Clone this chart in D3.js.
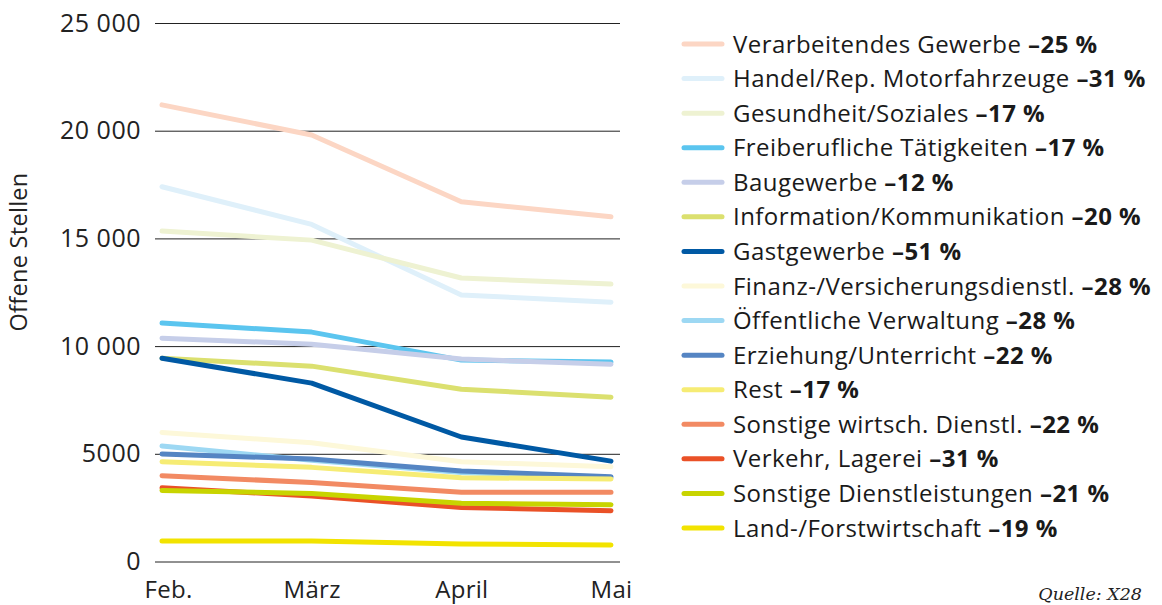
<!DOCTYPE html>
<html>
<head>
<meta charset="utf-8">
<script src="https://cdn.jsdelivr.net/npm/d3@7"></script>
<style>
  body { margin: 0; background: #fff; }
  svg { font-family: "Open Sans", Lato, sans-serif; }
</style>
</head>
<body>
<div id="chart"></div>
<script>
// data
var months = ["Feb.", "März", "April", "Mai"];
var yTicks = [0, 5000, 10000, 15000, 20000, 25000];

var sectors = [
    "Verarbeitendes Gewerbe", "Handel/Rep. Motorfahrzeuge", "Gesundheit/Soziales",
    "Freiberufliche Tätigkeiten", "Baugewerbe", "Information/Kommunikation",
    "Gastgewerbe", "Finanz-/Versicherungsdienstl.", "Öffentliche Verwaltung",
    "Erziehung/Unterricht", "Rest", "Sonstige wirtsch. Dienstl.",
    "Verkehr, Lagerei", "Sonstige Dienstleistungen", "Land-/Forstwirtschaft"
];
var changes = ["–25 %", "–31 %", "–17 %", "–17 %", "–12 %", "–20 %", "–51 %", "–28 %",
    "–28 %", "–22 %", "–17 %", "–22 %", "–31 %", "–21 %", "–19 %"];
var colors = ["#fcd6c4", "#dff0fa", "#eef2d2", "#5bc5ef", "#c6cee9", "#dbe06f", "#0059a4",
    "#fdf8d9", "#9dd8f3", "#5585c3", "#f6ec74", "#f28a63", "#ea5127", "#c8d400", "#f2e300"];

var verarbeitendes = [21200, 19800, 16700, 16000];
var handel = [17400, 15650, 12370, 12040];
var gesundheit = [15340, 14920, 13160, 12880];
var freiberufliche = [11070, 10650, 9350, 9260];
var baugewerbe = [10370, 10090, 9400, 9160];
var information = [9440, 9070, 8000, 7630];
var gastgewerbe = [9440, 8280, 5780, 4660];
var finanz = [5990, 5510, 4630, 4400];
var oeffentliche = [5360, 4700, 4130, 3880];
var erziehung = [4990, 4760, 4200, 3940];
var rest = [4630, 4370, 3890, 3830];
var sonstigeWirtsch = [3980, 3670, 3220, 3220];
var verkehr = [3420, 3040, 2510, 2360];
var sonstigeDienst = [3300, 3160, 2700, 2640];
var land = [950, 950, 810, 770];

var series = [verarbeitendes, handel, gesundheit, freiberufliche, baugewerbe, information,
    gastgewerbe, finanz, oeffentliche, erziehung, rest, sonstigeWirtsch, verkehr,
    sonstigeDienst, land];

var width = 1162, height = 605;

var svg = d3.select("#chart")
    .append("svg")
    .attr("width", width)
    .attr("height", height);

var x = d3.scalePoint()
    .domain(months)
    .range([162, 611]);

var y = d3.scaleLinear()
    .domain([0, 25000])
    .range([561.5, 23]);

function fmt(d) {
    return d >= 10000 ? d3.format(",")(d).replace(/,/g, " ") : String(d);
}

// gridlines + labels
var yAxis = svg.append("g")
    .attr("transform", "translate(155,0)")
    .call(d3.axisLeft(y).tickValues(yTicks).tickSize(-465).tickPadding(14).tickFormat(fmt));
yAxis.select(".domain").remove();
yAxis.selectAll("line").attr("stroke", "#222").attr("stroke-width", 1);
yAxis.selectAll("text")
    .attr("fill", "#222")
    .style("font-size", "25px")
    .style("letter-spacing", "0.5px")
    .style("font-family", "'Open Sans', sans-serif");

var xAxis = svg.append("g")
    .attr("transform", "translate(0,561.5)")
    .call(d3.axisBottom(x).tickSize(0).tickPadding(19));
xAxis.select(".domain").remove();
xAxis.selectAll("text")
    .attr("fill", "#222")
    .style("font-size", "24px")
    .style("letter-spacing", "0.3px")
    .style("font-family", "'Open Sans', sans-serif");
// first label sits a bit right of its point in the original
xAxis.selectAll(".tick text").filter(function(d) { return d === months[0]; }).attr("dx", 6);

svg.append("text")
    .attr("transform", "translate(27,252) rotate(-90)")
    .attr("text-anchor", "middle")
    .attr("fill", "#222")
    .style("font-size", "23.5px")
    .style("letter-spacing", "0.3px")
    .text("Offene Stellen");

var line = d3.line()
    .x(function(d, i) { return x(months[i]); })
    .y(function(d) { return y(d); });

svg.selectAll("path.series")
    .data(series)
    .enter()
    .append("path")
    .attr("class", "series")
    .attr("d", function(d) { return line(d); })
    .attr("fill", "none")
    .attr("stroke", function(d, i) { return colors[i]; })
    .attr("stroke-width", 5)
    .attr("stroke-linecap", "round")
    .attr("stroke-linejoin", "round");

// legend
var ly = d3.scalePoint()
    .domain(sectors)
    .range([44, 528]);

var legend = svg.selectAll("g.legend")
    .data(sectors)
    .enter()
    .append("g")
    .attr("class", "legend")
    .attr("transform", function(d) { return "translate(684," + ly(d) + ")"; });

legend.append("line")
    .attr("x1", 0)
    .attr("x2", 38)
    .attr("stroke", function(d, i) { return colors[i]; })
    .attr("stroke-width", 5)
    .attr("stroke-linecap", "round");

var lt = legend.append("text")
    .attr("x", 49)
    .attr("dy", "0.36em")
    .attr("fill", "#1a1a1a")
    .style("font-size", "24px")
    .style("letter-spacing", "0.45px");
lt.append("tspan").text(function(d) { return d + " "; });
lt.append("tspan")
    .style("font-weight", "bold")
    .text(function(d, i) { return changes[i]; });

svg.append("text")
    .attr("x", 1142)
    .attr("y", 600)
    .attr("text-anchor", "end")
    .attr("fill", "#222")
    .style("font-family", "'DejaVu Serif', 'Liberation Serif', serif")
    .style("font-style", "italic")
    .style("font-size", "17.5px")
    .text("Quelle: X28");
</script>
</body>
</html>
